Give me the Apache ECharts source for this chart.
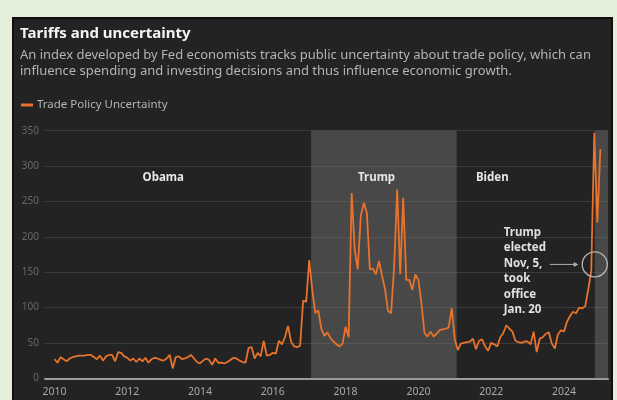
<!DOCTYPE html>
<html><head><meta charset="utf-8">
<script src="https://cdn.jsdelivr.net/npm/echarts@6/dist/echarts.min.js"></script>
<style>
html,body{margin:0;padding:0;background:#e3eedb;width:617px;height:400px;overflow:hidden}
#panel{position:absolute;left:12px;top:17px;width:597px;height:400px;background:#232323;border:2px solid #0f0f0f;}
#chart{position:absolute;left:0;top:0;width:617px;height:400px}
</style></head><body><div id="panel"></div><div id="chart"></div>
<script>
// Monthly Trade Policy Uncertainty index, Jan 2010 - Jan 2025
const startYear = 2010;
const tpu2010 = [27,22,30,27,24,28,30,31,32,32,32,33];
const tpu2011 = [33,30,27,32,25,31,33,33,24,37,36,31];
const tpu2012 = [29,25,28,23,28,24,29,22,27,29,28,26];
const tpu2013 = [25,28,33,14,30,31,27,28,30,33,28,23];
const tpu2014 = [21,25,28,26,19,28,22,22,21,23,26,29];
const tpu2015 = [28,25,23,22,43,44,28,36,31,53,32,33];
const tpu2016 = [36,35,53,48,58,74,52,45,44,46,110,108];
const tpu2017 = [167,125,92,96,70,60,65,57,52,48,45,49];
const tpu2018 = [73,58,262,182,154,229,248,234,154,155,147,166];
const tpu2019 = [145,126,95,92,158,267,147,255,139,139,125,147];
const tpu2020 = [139,106,64,59,66,59,63,68,69,70,72,99];
const tpu2021 = [55,40,49,50,51,52,56,41,53,55,45,39];
const tpu2022 = [50,48,45,58,64,75,70,66,53,51,50,52];
const tpu2023 = [52,48,66,37,56,58,63,65,49,42,62,68];
const tpu2024 = [66,80,88,94,92,100,99,102,125,152,347,220];
const tpu2025 = [324];

const yearTicks = [2010,2012,2014,2016,2018,2020,2022,2024];
const presidents = ['Obama','Trump','Biden'];
const trumpTerm = [2017 + 19/365, 2021 + 19/365];   // Jan 20, 2017 - Jan 20, 2021
const electionDate = 2024 + 309/365;                  // Nov 5, 2024
const xMin = 2009.74, xMax = 2025.21;

const values = [].concat(tpu2010,tpu2011,tpu2012,tpu2013,tpu2014,tpu2015,tpu2016,tpu2017,
  tpu2018,tpu2019,tpu2020,tpu2021,tpu2022,tpu2023,tpu2024,tpu2025);
const seriesData = values.map((v,i)=>[startYear + i/12, v]);

const FONT = '"Noto Sans", sans-serif';
const chart = echarts.init(document.getElementById('chart'), null, {renderer:'canvas'});
chart.setOption({
  backgroundColor: 'transparent',
  animation: false,
  textStyle: {fontFamily: FONT},
  title: [
    {text:'Tariffs and uncertainty', left:20, top:26, padding:0,
     textStyle:{color:'#f4f4f4', fontSize:15, fontWeight:'bold', fontFamily:FONT, lineHeight:16}},
    {text:'An index developed by Fed economists tracks public uncertainty about trade policy, which can\ninfluence spending and investing decisions and thus influence economic growth.',
     left:20, top:47, padding:0,
     textStyle:{color:'#b4b4b4', fontSize:13, fontWeight:'normal', fontFamily:FONT, lineHeight:16.5}}
  ],
  legend: {
    data:['Trade Policy Uncertainty'], left:21, top:99, padding:0,
    icon:'rect', itemWidth:12, itemHeight:3, itemGap:4,
    textStyle:{color:'#b4b4b4', fontSize:11.5, fontFamily:FONT, padding:[0,0,0,-1]}
  },
  grid: {left:45, right:9, top:130.7, bottom:21.7, containLabel:false},
  xAxis: {
    type:'value', min:xMin, max:xMax,
    axisLine:{show:true, lineStyle:{color:'#9c9c9c', width:2}},
    axisTick:{show:false},
    splitLine:{show:false},
    axisLabel:{customValues:yearTicks, color:'#a8a8a8', fontSize:10.5, margin:8,
      formatter:v=>String(Math.round(v))}
  },
  yAxis: {
    type:'value', min:0, max:350, interval:50,
    axisLine:{show:false}, axisTick:{show:false},
    splitLine:{lineStyle:{color:'#3b3b3b', width:1}},
    axisLabel:{color:'#686868', fontSize:10, margin:6}
  },
  series: [{
    name:'Trade Policy Uncertainty', type:'line', data:seriesData,
    showSymbol:false, symbol:'none',
    lineStyle:{color:'#e8732c', width:1.8},
    itemStyle:{color:'#e8732c'},
    z:5,
    markArea:{silent:true, itemStyle:{color:'rgba(125,125,125,0.42)'},
      data:[[{xAxis:trumpTerm[0]},{xAxis:trumpTerm[1]}],[{xAxis:electionDate},{xAxis:xMax}]]}
  }]
});

// annotations placed through the chart's own scales
const P = (x,y)=>chart.convertToPixel({gridIndex:0},[x,y]);
const labelPos = [[2012.99,284],[2018.85,284],[2022.03,284]];
const g = [];
presidents.forEach((name,i)=>{
  const p = P(labelPos[i][0], labelPos[i][1]);
  g.push({type:'text', z:100, x:p[0], y:p[1], style:{text:name, fill:'#e6e6e6', font:'bold 11.5px '+FONT, align:'center', verticalAlign:'middle'}});
});
const circ = P(electionDate, 161);
g.push({type:'circle', z:100, shape:{cx:circ[0], cy:circ[1], r:12.5}, style:{fill:'none', stroke:'#b8b8b8', lineWidth:1.3}});
g.push({type:'line', z:100, shape:{x1:circ[0]-45, y1:circ[1], x2:circ[0]-18, y2:circ[1]}, style:{stroke:'#b0b0b0', lineWidth:1}});
g.push({type:'polygon', z:100, shape:{points:[[circ[0]-16.5,circ[1]],[circ[0]-21,circ[1]-2.5],[circ[0]-21,circ[1]+2.5]]}, style:{fill:'#b0b0b0'}});
g.push({type:'text', z:100, x:circ[0]-91, y:circ[1]-39.5, style:{text:'Trump\nelected\nNov, 5,\ntook\noffice\nJan. 20', fill:'#e0e0e0', font:'bold 11.5px '+FONT, lineHeight:15.5, align:'left', verticalAlign:'top'}});
chart.setOption({graphic:{elements:g}});
</script></body></html>
